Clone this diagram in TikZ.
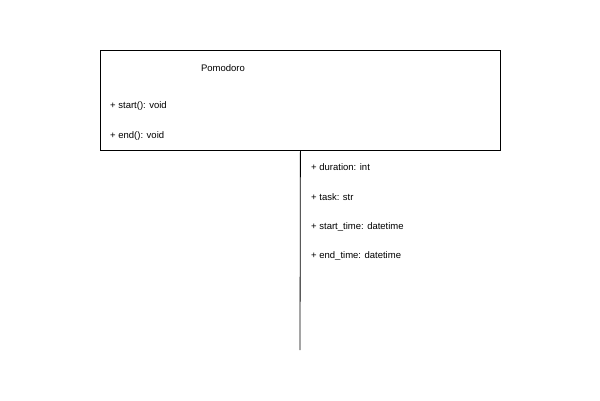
\documentclass[tikz,border=0pt]{standalone}
\usepackage{fontspec}
\setmainfont{Liberation Sans}
\begin{document}
\begin{tikzpicture}[x=1pt,y=-1pt,
  lbl/.style={anchor=west,inner sep=0pt,font=\fontsize{9.5}{10}\selectfont},
  boxline/.style={draw=black,line width=0.8pt}]
\useasboundingbox (0,0) rectangle (600,400);
\node[boxline,minimum width=400pt,minimum height=100pt,anchor=north west,inner sep=0pt] (cls) at (100,50) {};
\node[inner sep=0pt,font=\fontsize{9.5}{10}\selectfont] (name) at (223,68) {Pomodoro};
\node[lbl] (m1) at (110,106.5) {+ start(): void};
\node[lbl] (m2) at (110,136) {+ end(): void};
\coordinate (lend) at (300,350);
\draw[boxline] (cls.south) -- (lend);
\node[lbl] (a1) at (311,167.5) {+ duration: int};
\node[lbl] (a2) at (311,197) {+ task: str};
\node[lbl] (a3) at (311,226.5) {+ start\_time: datetime};
\node[lbl] (a4) at (311,256) {+ end\_time: datetime};
\end{tikzpicture}
\end{document}
